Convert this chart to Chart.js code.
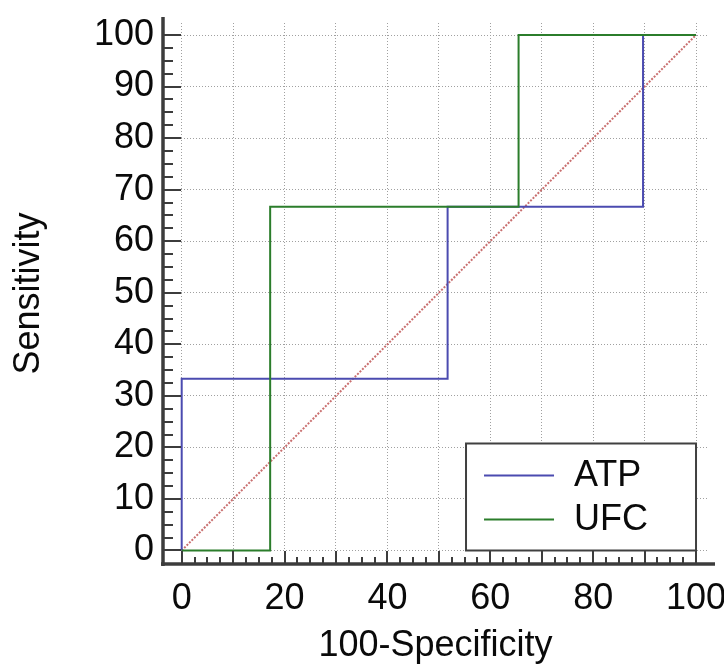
<!DOCTYPE html>
<html><head><meta charset="utf-8">
<script src="https://cdn.jsdelivr.net/npm/chart.js@4/dist/chart.umd.min.js"></script>
<style>html,body{margin:0;padding:0;background:#fff;}#wrap{width:724px;height:669px;}</style>
</head><body><div id="wrap"><canvas id="c" width="724" height="669"></canvas></div>
<script>
// ---- data ----
const seriesNames = ['ATP', 'UFC'];
const atpX = [0, 0, 51.7, 51.7, 89.7, 89.7, 100];
const atpY = [0, 33.3, 33.3, 66.7, 66.7, 100, 100];
const ufcX = [0, 17.2, 17.2, 65.5, 65.5, 100];
const ufcY = [0, 0, 66.7, 66.7, 100, 100];
const diagX = [0, 100];
const diagY = [0, 100];
const xTicks = [0, 10, 20, 30, 40, 50, 60, 70, 80, 90, 100];
const xTickLabels = ['0', '', '20', '', '40', '', '60', '', '80', '', '100'];
const yTicks = [0, 10, 20, 30, 40, 50, 60, 70, 80, 90, 100];
const yTickLabels = ['0', '10', '20', '30', '40', '50', '60', '70', '80', '90', '100'];
const xTitle = '100-Specificity';
const yTitle = 'Sensitivity';

const pts = (xs, ys) => xs.map((x, i) => ({x: x, y: ys[i]}));
const FONT = 'Liberation Sans, Arial, sans-serif';
const AXIS_COLOR = '#3c3c3c';
const TEXT_COLOR = '#0a0a0a';

const axesPlugin = {
  id: 'axesDeco',
  afterDraw(chart) {
    const ctx = chart.ctx, ca = chart.chartArea;
    const xs = chart.scales.x, ys = chart.scales.y;
    ctx.save();
    ctx.strokeStyle = AXIS_COLOR;
    ctx.lineWidth = 2;
    for (let v = 0; v <= 100.001; v += 2.5) {
      const major = Math.abs(v % 10) < 1e-6;
      const py = Math.round(ys.getPixelForValue(v));
      ctx.beginPath();
      ctx.moveTo(ca.left, py);
      ctx.lineTo(ca.left + (major ? 18 : 10), py);
      ctx.stroke();
      const px = Math.round(xs.getPixelForValue(v));
      ctx.beginPath();
      ctx.moveTo(px, ca.bottom);
      ctx.lineTo(px, ca.bottom - (major ? 13 : 7));
      ctx.stroke();
    }
    ctx.lineWidth = 3.5;
    ctx.beginPath();
    ctx.moveTo(ca.left, ca.top - 6);
    ctx.lineTo(ca.left, ca.bottom + 2);
    ctx.stroke();
    ctx.beginPath();
    ctx.moveTo(ca.left - 2, ca.bottom);
    ctx.lineTo(ca.right + 7, ca.bottom);
    ctx.stroke();

    // legend box anchored at (100, 0)
    const right = xs.getPixelForValue(100), bottom = ys.getPixelForValue(0);
    const w = 230, h = 107;
    const left = right - w, top = bottom - h;
    ctx.fillStyle = '#ffffff';
    ctx.fillRect(left, top, w, h);
    ctx.lineWidth = 2;
    ctx.strokeStyle = '#404040';
    ctx.strokeRect(left, top, w, h);
    const dsMeta = [chart.data.datasets[1], chart.data.datasets[0]];
    const rows = [top + 32, top + 76];
    dsMeta.forEach((ds, i) => {
      ctx.strokeStyle = ds.borderColor;
      ctx.lineWidth = 2;
      ctx.beginPath();
      ctx.moveTo(left + 18, rows[i]);
      ctx.lineTo(left + 88, rows[i]);
      ctx.stroke();
      ctx.fillStyle = TEXT_COLOR;
      ctx.font = '36px ' + FONT;
      ctx.textBaseline = 'middle';
      ctx.textAlign = 'left';
      ctx.fillText(ds.label, left + 108, rows[i] + 1);
    });
    ctx.restore();
  }
};

new Chart(document.getElementById('c'), {
  type: 'line',
  data: {
    datasets: [
      {label: seriesNames[1], data: pts(ufcX, ufcY), borderColor: '#2b7d2b', borderWidth: 2, pointRadius: 0, tension: 0, fill: false, order: 0},
      {label: seriesNames[0], data: pts(atpX, atpY), borderColor: '#4b4bb0', borderWidth: 2, pointRadius: 0, tension: 0, fill: false, order: 1},
      {label: 'ref', data: pts(diagX, diagY), borderColor: 'rgba(195,95,95,0.9)', borderWidth: 2, borderDash: [2, 1.5], pointRadius: 0, tension: 0, fill: false, order: 2}
    ]
  },
  options: {
    responsive: false,
    animation: false,
    devicePixelRatio: 1,
    layout: {padding: {left: 0, right: 16, top: 23, bottom: 0}},
    plugins: {legend: {display: false}, tooltip: {enabled: false}},
    scales: {
      x: {
        type: 'linear', min: -3.636, max: 102.33,
        afterBuildTicks: s => { s.ticks = xTicks.map(v => ({value: v})); },
        afterFit: s => { s.height = 105; s.paddingLeft = 0; s.paddingRight = 0; },
        grid: {color: '#a0a0a0', lineWidth: 1, drawTicks: false},
        border: {display: false, dash: [1, 2]},
        ticks: {
          autoSkip: false, maxRotation: 0, padding: 13, color: TEXT_COLOR,
          font: {family: FONT, size: 36},
          callback: (v) => { const i = xTicks.indexOf(v); return i >= 0 ? xTickLabels[i] : ''; }
        },
        title: {display: true, text: xTitle, color: TEXT_COLOR, font: {family: FONT, size: 36}, padding: {top: 0, bottom: 1}}
      },
      y: {
        type: 'linear', min: -2.619, max: 102.33,
        afterBuildTicks: s => { s.ticks = yTicks.map(v => ({value: v})); },
        afterFit: s => { s.width = 163; s.paddingTop = 0; s.paddingBottom = 0; },
        grid: {color: '#a0a0a0', lineWidth: 1, drawTicks: false},
        border: {display: false, dash: [1, 2]},
        ticks: {
          autoSkip: false, padding: 9, color: TEXT_COLOR,
          font: {family: FONT, size: 36},
          callback: (v) => { const i = yTicks.indexOf(v); return i >= 0 ? yTickLabels[i] : ''; }
        },
        title: {display: true, text: yTitle, color: TEXT_COLOR, font: {family: FONT, size: 36}, padding: {top: 7, bottom: 0}}
      }
    }
  },
  plugins: [axesPlugin]
});
</script>
</body></html>
